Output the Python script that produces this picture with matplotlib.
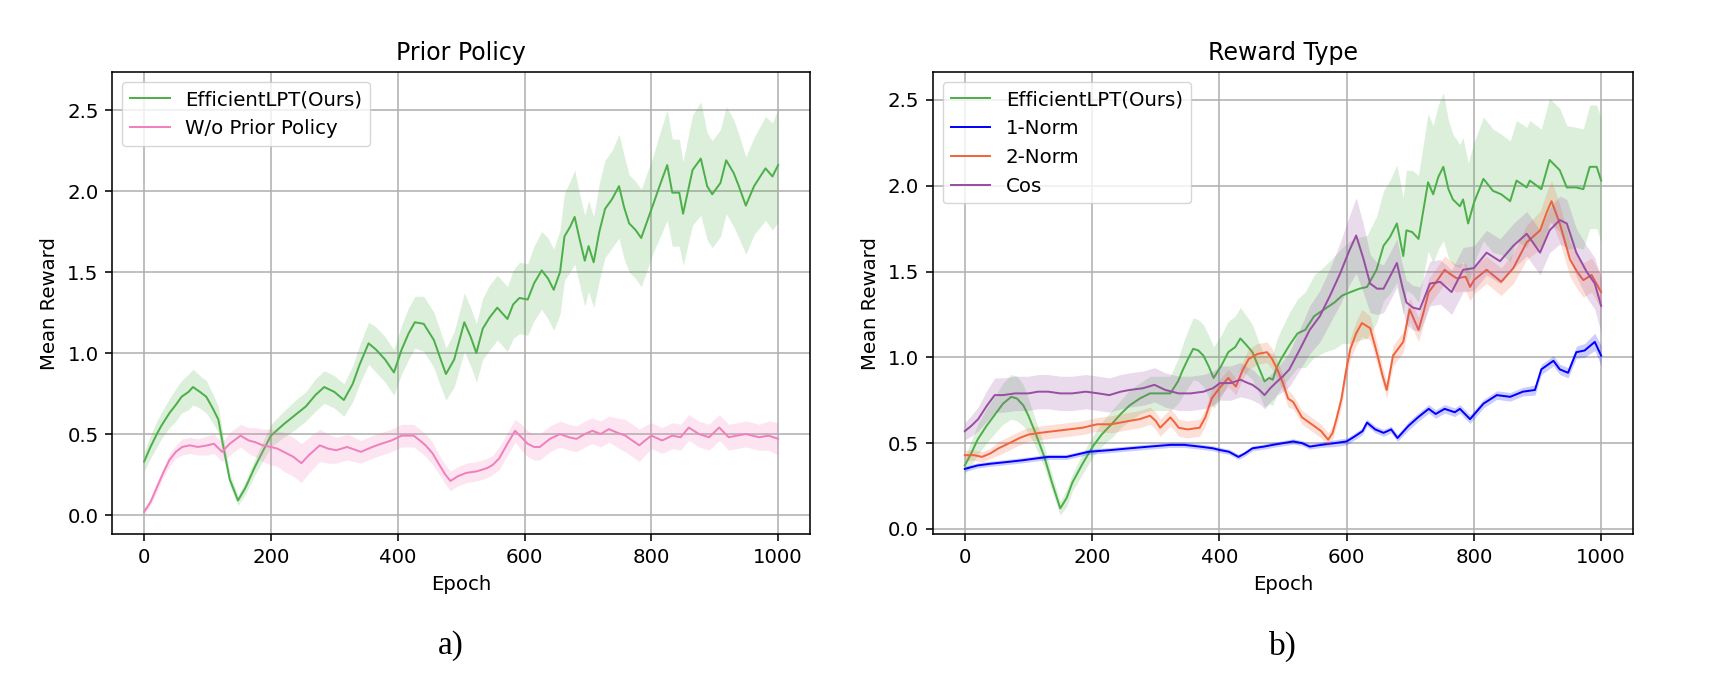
import numpy as np
import matplotlib
matplotlib.use("Agg")
import matplotlib.pyplot as plt

# ---------------- data ----------------
# Panel a) Prior Policy
a_ours_epoch = [0, 10, 20, 27, 40, 50, 59, 70, 77, 88,
                98, 108, 117, 125, 135, 148, 160, 175, 188, 200,
                220, 239, 255, 270, 284, 300, 315, 329, 340, 354,
                366, 380, 394, 406, 417, 427, 441, 457, 466, 476,
                489, 505, 515, 524, 534, 545, 557, 573, 582, 592,
                605, 615, 627, 637, 646, 656, 663, 672, 679, 687,
                695, 701, 709, 718, 727, 738, 749, 757, 765, 775,
                784, 794, 804, 812, 825, 833, 844, 850, 865, 878,
                888, 896, 909, 918, 930, 938, 949, 962, 980, 991,
                1000]
a_ours_mean = [0.33, 0.42, 0.50, 0.55, 0.63, 0.68, 0.73, 0.76, 0.79, 0.76,
               0.73, 0.66, 0.59, 0.42, 0.22, 0.09, 0.17, 0.30, 0.40, 0.49,
               0.56, 0.62, 0.67, 0.74, 0.79, 0.76, 0.71, 0.81, 0.93, 1.06,
               1.02, 0.96, 0.88, 1.02, 1.12, 1.19, 1.18, 1.08, 0.98, 0.87,
               0.96, 1.19, 1.10, 1.00, 1.15, 1.22, 1.28, 1.21, 1.30, 1.34,
               1.33, 1.43, 1.51, 1.46, 1.39, 1.50, 1.72, 1.78, 1.84, 1.70,
               1.57, 1.66, 1.56, 1.75, 1.89, 1.95, 2.03, 1.90, 1.80, 1.76,
               1.71, 1.82, 1.93, 2.02, 2.16, 1.99, 1.99, 1.86, 2.13, 2.20,
               2.03, 1.98, 2.05, 2.19, 2.11, 2.03, 1.91, 2.03, 2.14, 2.09,
               2.16]
a_ours_std = [0.06, 0.07, 0.08, 0.08, 0.09, 0.10, 0.10, 0.11, 0.11, 0.10,
              0.10, 0.09, 0.08, 0.06, 0.04, 0.03, 0.04, 0.05, 0.06, 0.07,
              0.08, 0.09, 0.09, 0.10, 0.10, 0.10, 0.10, 0.11, 0.12, 0.13,
              0.14, 0.14, 0.14, 0.15, 0.16, 0.16, 0.17, 0.17, 0.17, 0.16,
              0.17, 0.18, 0.18, 0.18, 0.19, 0.20, 0.20, 0.20, 0.21, 0.22,
              0.22, 0.23, 0.24, 0.25, 0.25, 0.26, 0.27, 0.28, 0.29, 0.28,
              0.28, 0.28, 0.28, 0.30, 0.30, 0.30, 0.32, 0.32, 0.30, 0.30,
              0.30, 0.30, 0.30, 0.32, 0.34, 0.33, 0.33, 0.32, 0.34, 0.35,
              0.33, 0.33, 0.33, 0.33, 0.33, 0.32, 0.30, 0.30, 0.32, 0.33,
              0.35]

a_wo_epoch = [0, 10, 20, 30, 40, 50, 60, 72, 85, 100,
              110, 123, 135, 152, 165, 175, 187, 200, 210, 220,
              235, 248, 260, 277, 290, 303, 320, 342, 360, 374,
              390, 406, 425, 435, 444, 455, 464, 475, 483, 495,
              508, 525, 541, 550, 560, 573, 585, 595, 605, 615,
              624, 640, 656, 670, 682, 695, 707, 720, 733, 745,
              759, 770, 781, 790, 800, 817, 833, 846, 859, 875,
              891, 907, 922, 935, 949, 970, 985, 1000]
a_wo_mean = [0.02, 0.08, 0.17, 0.26, 0.34, 0.39, 0.42, 0.43, 0.42, 0.43,
             0.44, 0.39, 0.44, 0.49, 0.46, 0.45, 0.43, 0.42, 0.41, 0.39,
             0.36, 0.32, 0.37, 0.43, 0.41, 0.40, 0.42, 0.39, 0.42, 0.44,
             0.46, 0.49, 0.49, 0.46, 0.43, 0.38, 0.32, 0.25, 0.21, 0.24,
             0.26, 0.27, 0.29, 0.31, 0.35, 0.44, 0.52, 0.48, 0.44, 0.42,
             0.42, 0.47, 0.50, 0.48, 0.47, 0.50, 0.52, 0.50, 0.53, 0.51,
             0.49, 0.46, 0.43, 0.46, 0.49, 0.46, 0.49, 0.48, 0.54, 0.50,
             0.48, 0.54, 0.48, 0.49, 0.50, 0.48, 0.49, 0.47]
a_wo_std = [0.02, 0.02, 0.03, 0.03, 0.04, 0.04, 0.05, 0.05, 0.05, 0.06,
            0.06, 0.06, 0.07, 0.07, 0.08, 0.09, 0.10, 0.11, 0.11, 0.12,
            0.12, 0.12, 0.11, 0.10, 0.09, 0.08, 0.08, 0.07, 0.07, 0.07,
            0.07, 0.07, 0.07, 0.07, 0.07, 0.07, 0.06, 0.06, 0.06, 0.06,
            0.06, 0.06, 0.06, 0.06, 0.07, 0.07, 0.07, 0.08, 0.08, 0.08,
            0.08, 0.08, 0.08, 0.08, 0.08, 0.08, 0.08, 0.08, 0.08, 0.09,
            0.10, 0.10, 0.10, 0.09, 0.08, 0.08, 0.08, 0.08, 0.08, 0.08,
            0.08, 0.08, 0.08, 0.08, 0.08, 0.08, 0.09, 0.10]

# Panel b) Reward Type
b_ours_epoch = [0, 10, 20, 34, 50, 60, 73, 82, 92, 100,
                111, 125, 137, 150, 160, 169, 185, 201, 215, 233,
                245, 259, 275, 291, 305, 323, 335, 343, 352, 359,
                367, 375, 383, 391, 403, 414, 425, 433, 443, 452,
                462, 471, 478, 484, 490, 497, 510, 523, 535, 549,
                565, 581, 593, 606, 620, 632, 647, 658, 668, 679,
                689, 694, 703, 713, 728, 736, 744, 752, 760, 767,
                778, 783, 791, 800, 815, 830, 843, 857, 867, 883,
                888, 906, 919, 935, 946, 961, 972, 982, 993, 1000]
b_ours_mean = [0.37, 0.44, 0.52, 0.60, 0.68, 0.73, 0.77, 0.76, 0.72, 0.66,
               0.56, 0.42, 0.27, 0.12, 0.18, 0.27, 0.38, 0.48, 0.55, 0.62,
               0.67, 0.72, 0.76, 0.79, 0.79, 0.79, 0.86, 0.93, 1.00, 1.05,
               1.04, 1.01, 0.95, 0.88, 0.95, 1.03, 1.06, 1.11, 1.07, 1.03,
               0.94, 0.86, 0.88, 0.87, 0.94, 0.99, 1.07, 1.14, 1.16, 1.24,
               1.28, 1.32, 1.36, 1.38, 1.40, 1.41, 1.51, 1.65, 1.70, 1.78,
               1.59, 1.74, 1.73, 1.69, 2.02, 1.95, 2.05, 2.11, 1.98, 1.92,
               1.88, 1.92, 1.78, 1.90, 2.04, 1.97, 1.95, 1.91, 2.03, 1.99,
               2.03, 1.98, 2.15, 2.09, 1.99, 1.99, 1.98, 2.11, 2.11, 2.03]
b_ours_std = [0.05, 0.07, 0.09, 0.10, 0.11, 0.12, 0.13, 0.13, 0.12, 0.10,
              0.08, 0.06, 0.05, 0.04, 0.05, 0.05, 0.06, 0.06, 0.07, 0.08,
              0.08, 0.09, 0.09, 0.10, 0.10, 0.10, 0.13, 0.15, 0.17, 0.18,
              0.18, 0.18, 0.18, 0.18, 0.18, 0.18, 0.18, 0.18, 0.17, 0.16,
              0.15, 0.15, 0.15, 0.15, 0.16, 0.17, 0.19, 0.20, 0.22, 0.24,
              0.25, 0.27, 0.28, 0.30, 0.30, 0.30, 0.31, 0.32, 0.33, 0.34,
              0.34, 0.35, 0.36, 0.37, 0.40, 0.40, 0.42, 0.43, 0.40, 0.38,
              0.36, 0.36, 0.35, 0.35, 0.36, 0.36, 0.35, 0.35, 0.35, 0.35,
              0.35, 0.35, 0.36, 0.36, 0.36, 0.35, 0.35, 0.36, 0.36, 0.36]

b_n1_epoch = [0, 20, 40, 66, 90, 110, 131, 160, 195, 230,
              259, 290, 323, 345, 369, 390, 401, 415, 430, 440,
              452, 470, 484, 500, 516, 530, 542, 560, 581, 600,
              613, 625, 632, 645, 658, 670, 680, 697, 712, 729,
              740, 754, 770, 778, 794, 815, 836, 857, 877, 896,
              906, 925, 935, 948, 961, 974, 990, 1000]
b_n1_mean = [0.35, 0.37, 0.38, 0.39, 0.40, 0.41, 0.42, 0.42, 0.45, 0.46,
             0.47, 0.48, 0.49, 0.49, 0.48, 0.47, 0.46, 0.45, 0.42, 0.44,
             0.47, 0.48, 0.49, 0.50, 0.51, 0.50, 0.48, 0.49, 0.50, 0.51,
             0.54, 0.57, 0.62, 0.58, 0.56, 0.58, 0.53, 0.60, 0.65, 0.70,
             0.67, 0.70, 0.68, 0.70, 0.64, 0.73, 0.78, 0.77, 0.80, 0.81,
             0.93, 0.98, 0.93, 0.91, 1.03, 1.04, 1.09, 1.01]
b_n1_std = [0.015, 0.015, 0.015, 0.015, 0.015, 0.015, 0.015, 0.015, 0.015, 0.015,
            0.015, 0.015, 0.015, 0.015, 0.015, 0.015, 0.015, 0.015, 0.015, 0.015,
            0.015, 0.015, 0.015, 0.015, 0.015, 0.015, 0.015, 0.015, 0.02, 0.02,
            0.02, 0.02, 0.02, 0.02, 0.02, 0.02, 0.02, 0.025, 0.025, 0.025,
            0.025, 0.025, 0.025, 0.025, 0.025, 0.025, 0.025, 0.025, 0.025, 0.03,
            0.03, 0.03, 0.03, 0.03, 0.035, 0.04, 0.05, 0.06]

b_n2_epoch = [0, 15, 27, 40, 53, 70, 86, 100, 118, 140,
              163, 185, 208, 230, 259, 275, 291, 300, 307, 315,
              323, 330, 336, 350, 369, 378, 388, 400, 414, 426,
              436, 446, 460, 475, 483, 491, 500, 508, 516, 530,
              549, 560, 571, 578, 584, 592, 599, 606, 615, 624,
              637, 648, 656, 663, 673, 689, 699, 713, 720, 729,
              741, 754, 761, 773, 787, 794, 800, 820, 843, 862,
              883, 904, 915, 922, 935, 951, 962, 972, 985, 1000]
b_n2_mean = [0.43, 0.43, 0.42, 0.44, 0.47, 0.50, 0.53, 0.55, 0.56, 0.57,
             0.58, 0.59, 0.61, 0.61, 0.63, 0.64, 0.66, 0.63, 0.59, 0.62,
             0.65, 0.62, 0.59, 0.58, 0.59, 0.65, 0.76, 0.82, 0.88, 0.83,
             0.92, 0.99, 1.02, 1.03, 0.99, 0.93, 0.85, 0.76, 0.74, 0.65,
             0.60, 0.57, 0.52, 0.56, 0.64, 0.76, 0.92, 1.05, 1.14, 1.20,
             1.17, 1.02, 0.90, 0.81, 1.01, 1.09, 1.28, 1.16, 1.25, 1.38,
             1.44, 1.51, 1.49, 1.46, 1.47, 1.41, 1.45, 1.51, 1.44, 1.52,
             1.67, 1.74, 1.85, 1.91, 1.78, 1.57, 1.50, 1.45, 1.48, 1.38]
b_n2_std = [0.03, 0.03, 0.03, 0.03, 0.04, 0.04, 0.04, 0.04, 0.04, 0.04,
            0.04, 0.04, 0.04, 0.05, 0.05, 0.05, 0.05, 0.05, 0.05, 0.05,
            0.05, 0.05, 0.05, 0.05, 0.05, 0.05, 0.05, 0.05, 0.05, 0.05,
            0.05, 0.06, 0.06, 0.06, 0.06, 0.05, 0.05, 0.05, 0.04, 0.04,
            0.04, 0.04, 0.04, 0.04, 0.04, 0.05, 0.05, 0.06, 0.07, 0.08,
            0.07, 0.06, 0.05, 0.05, 0.06, 0.06, 0.07, 0.07, 0.07, 0.08,
            0.08, 0.08, 0.08, 0.08, 0.08, 0.08, 0.08, 0.08, 0.08, 0.09,
            0.10, 0.11, 0.12, 0.12, 0.11, 0.10, 0.10, 0.10, 0.10, 0.10]

b_cos_epoch = [0, 10, 21, 35, 47, 60, 79, 100, 115, 131,
               150, 169, 190, 210, 227, 245, 259, 280, 298, 315,
               336, 355, 375, 390, 401, 418, 433, 445, 452, 463,
               471, 480, 491, 500, 510, 527, 542, 558, 574, 590,
               604, 615, 626, 637, 648, 658, 668, 679, 687, 694,
               704, 715, 731, 747, 765, 783, 800, 820, 841, 862,
               883, 904, 919, 935, 946, 961, 977, 990, 1000]
b_cos_mean = [0.57, 0.60, 0.64, 0.72, 0.78, 0.78, 0.79, 0.79, 0.80, 0.80,
              0.79, 0.79, 0.80, 0.79, 0.78, 0.80, 0.81, 0.82, 0.84, 0.81,
              0.79, 0.79, 0.80, 0.82, 0.85, 0.85, 0.87, 0.85, 0.84, 0.81,
              0.78, 0.82, 0.86, 0.89, 0.93, 1.05, 1.16, 1.24, 1.36, 1.49,
              1.62, 1.71, 1.58, 1.43, 1.40, 1.40, 1.47, 1.55, 1.42, 1.32,
              1.29, 1.28, 1.43, 1.44, 1.38, 1.51, 1.52, 1.61, 1.56, 1.65,
              1.72, 1.61, 1.74, 1.80, 1.78, 1.61, 1.50, 1.43, 1.30]
b_cos_std = [0.05, 0.06, 0.07, 0.09, 0.10, 0.10, 0.10, 0.10, 0.10, 0.10,
             0.10, 0.10, 0.10, 0.10, 0.10, 0.10, 0.10, 0.10, 0.10, 0.10,
             0.10, 0.10, 0.10, 0.10, 0.10, 0.10, 0.10, 0.09, 0.09, 0.08,
             0.08, 0.08, 0.08, 0.09, 0.10, 0.12, 0.14, 0.15, 0.16, 0.18,
             0.20, 0.22, 0.20, 0.17, 0.15, 0.14, 0.14, 0.14, 0.13, 0.13,
             0.13, 0.13, 0.13, 0.13, 0.13, 0.13, 0.13, 0.13, 0.13, 0.13,
             0.13, 0.13, 0.13, 0.14, 0.14, 0.14, 0.15, 0.15, 0.16]

panel_titles = ["Prior Policy", "Reward Type"]
panel_captions = ["a)", "b)"]
x_label = "Epoch"
y_label = "Mean Reward"

C_OURS = "#4daf4a"
C_WO = "#f07fbd"
C_N1 = "#0000ff"
C_N2 = "#f0643c"
C_COS = "#984ea3"

# ---------------- style ----------------
S = 1.42
plt.rcParams.update({
    "font.family": ["DejaVu Sans"],
    "font.size": 10 * S,
    "axes.titlesize": 12 * S,
    "axes.linewidth": 0.8 * S,
    "grid.linewidth": 0.8 * S,
    "xtick.major.size": 3.5 * S,
    "ytick.major.size": 3.5 * S,
    "xtick.major.width": 0.8 * S,
    "ytick.major.width": 0.8 * S,
    "xtick.major.pad": 3.5 * S,
    "ytick.major.pad": 3.5 * S,
    "axes.titlepad": 6 * S,
    "axes.labelpad": 4 * S,
    "lines.linewidth": 1.0 * S,
})

fig = plt.figure(figsize=(17.22, 6.85), dpi=100)
ax_a = fig.add_axes([0.0653, 0.220, 0.405, 0.6745])
ax_b = fig.add_axes([0.5418, 0.220, 0.4065, 0.6745])


def band(ax, ep, mean, std, color, label, z):
    ep = np.asarray(ep, float)
    m = np.asarray(mean, float)
    s = np.asarray(std, float)
    ax.fill_between(ep, m - s, m + s, color=color, alpha=0.2, linewidth=0, zorder=z)
    ax.plot(ep, m, color=color, label=label, zorder=z + 0.5)


band(ax_a, a_ours_epoch, a_ours_mean, a_ours_std, C_OURS, "EfficientLPT(Ours)", 2)
band(ax_a, a_wo_epoch, a_wo_mean, a_wo_std, C_WO, "W/o Prior Policy", 3)

band(ax_b, b_ours_epoch, b_ours_mean, b_ours_std, C_OURS, "EfficientLPT(Ours)", 2)
band(ax_b, b_n1_epoch, b_n1_mean, b_n1_std, C_N1, "1-Norm", 3)
band(ax_b, b_n2_epoch, b_n2_mean, b_n2_std, C_N2, "2-Norm", 4)
band(ax_b, b_cos_epoch, b_cos_mean, b_cos_std, C_COS, "Cos", 5)

for ax, title in zip([ax_a, ax_b], panel_titles):
    ax.set_title(title)
    ax.set_xlabel(x_label)
    ax.set_ylabel(y_label)
    ax.grid(True, color="#b0b0b0")
    ax.set_axisbelow(True)
    ax.set_xlim(-50, 1050)
    ax.set_xticks([0, 200, 400, 600, 800, 1000])
    ax.set_yticks([0.0, 0.5, 1.0, 1.5, 2.0, 2.5])
    ax.legend(loc="upper left")

ax_a.set_ylim(-0.119, 2.733)
ax_b.set_ylim(-0.031, 2.661)

fig.text(0.262, 0.057, panel_captions[0], ha="center", va="center",
         fontsize=24, family=["Liberation Serif"])
fig.text(0.745, 0.057, panel_captions[1], ha="center", va="center",
         fontsize=24, family=["Liberation Serif"])

fig.savefig("out.png", dpi=100)
